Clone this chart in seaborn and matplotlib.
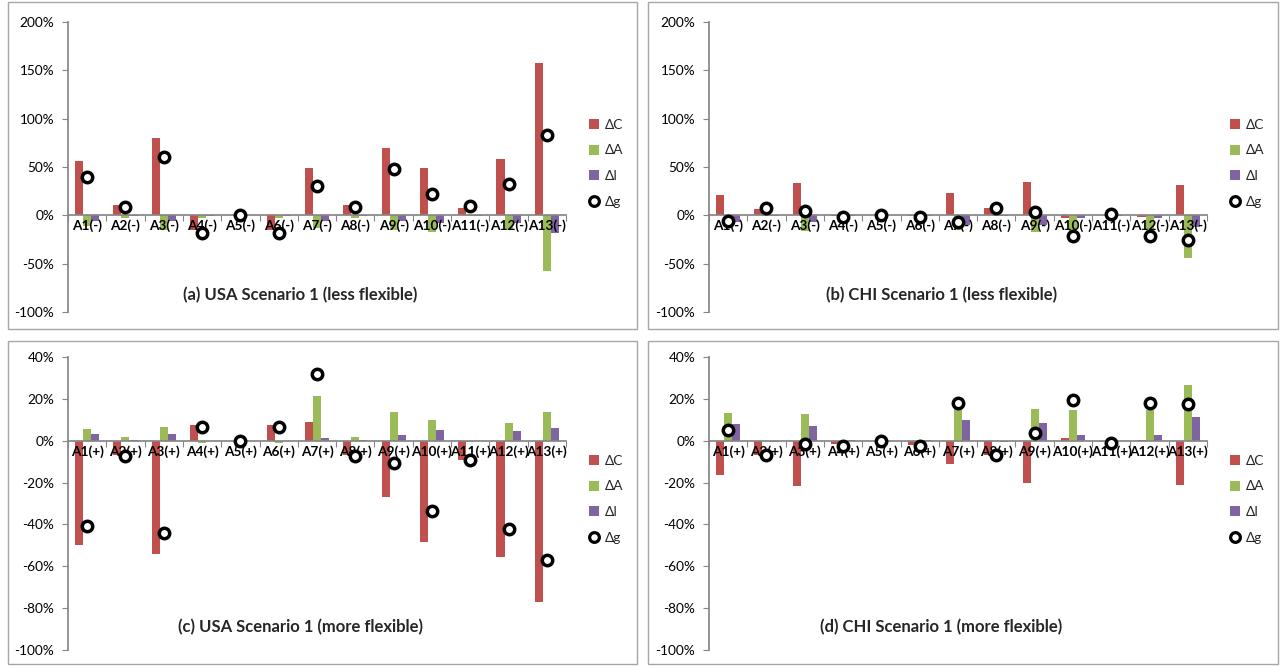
import numpy as np
import pandas as pd
import matplotlib
matplotlib.use("Agg")
import matplotlib.pyplot as plt
from matplotlib.patches import Patch, Rectangle
from matplotlib.lines import Line2D
from matplotlib.ticker import PercentFormatter, FixedLocator
import seaborn as sns

# ---------------- data (fractions) ----------------
cats_less = ["A1(-)", "A2(-)", "A3(-)", "A4(-)", "A5(-)", "A6(-)", "A7(-)",
             "A8(-)", "A9(-)", "A10(-)", "A11(-)", "A12(-)", "A13(-)"]
cats_more = ["A1(+)", "A2(+)", "A3(+)", "A4(+)", "A5(+)", "A6(+)", "A7(+)",
             "A8(+)", "A9(+)", "A10(+)", "A11(+)", "A12(+)", "A13(+)"]

# (a) USA Scenario 1 (less flexible)
usa_less_C = [0.56, 0.11, 0.80, -0.15, 0.0, -0.15, 0.49, 0.11, 0.70, 0.49, 0.08, 0.58, 1.58]
usa_less_A = [-0.11, -0.03, -0.15, -0.03, 0.0, -0.03, -0.13, -0.03, -0.15, -0.17, -0.005, -0.15, -0.58]
usa_less_I = [-0.055, -0.005, -0.055, -0.005, 0.0, -0.005, -0.055, -0.005, -0.055, -0.08, -0.003, -0.08, -0.18]
usa_less_g = [0.40, 0.09, 0.60, -0.18, 0.0, -0.18, 0.30, 0.09, 0.48, 0.22, 0.10, 0.32, 0.83]

# (b) CHI Scenario 1 (less flexible)
chi_less_C = [0.21, 0.07, 0.33, -0.01, 0.0, -0.005, 0.23, 0.075, 0.35, -0.025, 0.005, -0.02, 0.31]
chi_less_A = [-0.10, -0.005, -0.16, -0.005, 0.0, -0.005, -0.15, -0.005, -0.17, -0.22, -0.003, -0.20, -0.44]
chi_less_I = [-0.07, -0.003, -0.07, -0.01, 0.0, -0.01, -0.10, -0.003, -0.10, -0.03, -0.003, -0.03, -0.12]
chi_less_g = [-0.055, 0.08, 0.05, -0.02, 0.0, -0.02, -0.07, 0.08, 0.035, -0.21, 0.01, -0.21, -0.25]

# (c) USA Scenario 1 (more flexible)
usa_more_C = [-0.496, -0.07, -0.54, 0.075, 0.0, 0.075, 0.088, -0.07, -0.27, -0.485, -0.09, -0.557, -0.77]
usa_more_A = [0.054, 0.016, 0.067, -0.013, 0.0, -0.013, 0.214, 0.016, 0.136, 0.097, -0.008, 0.086, 0.136]
usa_more_I = [0.03, 0.002, 0.03, 0.001, 0.0, 0.001, 0.011, 0.002, 0.026, 0.05, 0.001, 0.045, 0.062]
usa_more_g = [-0.407, -0.073, -0.44, 0.065, 0.0, 0.065, 0.32, -0.073, -0.107, -0.335, -0.093, -0.423, -0.568]

# (d) CHI Scenario 1 (more flexible)
chi_more_C = [-0.166, -0.07, -0.215, -0.018, 0.0, -0.019, -0.11, -0.07, -0.20, 0.011, -0.008, 0.002, -0.212]
chi_more_A = [0.134, 0.001, 0.126, 0.001, 0.0, 0.001, 0.182, 0.001, 0.15, 0.148, 0.001, 0.145, 0.266]
chi_more_I = [0.078, -0.005, 0.072, 0.002, 0.0, 0.002, 0.097, -0.005, 0.083, 0.027, 0.001, 0.027, 0.115]
chi_more_g = [0.05, -0.069, -0.014, -0.027, 0.0, -0.027, 0.182, -0.069, 0.038, 0.193, -0.01, 0.182, 0.174]

series_names = ["ΔC", "ΔA", "ΔI"]
point_name = "Δg"
titles = ["(a) USA Scenario 1 (less flexible)", "(b) CHI Scenario 1 (less flexible)",
          "(c) USA Scenario 1 (more flexible)", "(d) CHI Scenario 1 (more flexible)"]
ticks_top = [-1.0, -0.5, 0.0, 0.5, 1.0, 1.5, 2.0]
ticks_bot = [-1.0, -0.8, -0.6, -0.4, -0.2, 0.0, 0.2, 0.4]

palette = {"ΔC": "#C0504D", "ΔA": "#9BBB59", "ΔI": "#8064A2"}

# ---------------- style ----------------
sns.set_theme(style="white")
plt.rcParams["font.family"] = ["Lato", "DejaVu Sans"]
plt.rcParams["axes.unicode_minus"] = False

W, H = 1285, 666
fig = plt.figure(figsize=(W / 100, H / 100), dpi=100)

panels = [
    (cats_less, usa_less_C, usa_less_A, usa_less_I, usa_less_g, ticks_top, (68, 22, 566, 312)),
    (cats_less, chi_less_C, chi_less_A, chi_less_I, chi_less_g, ticks_top, (709, 22, 1207, 312)),
    (cats_more, usa_more_C, usa_more_A, usa_more_I, usa_more_g, ticks_bot, (68, 357, 566, 650)),
    (cats_more, chi_more_C, chi_more_A, chi_more_I, chi_more_g, ticks_bot, (709, 357, 1207, 650)),
]
boxes = [(8, 2, 637, 329), (648, 2, 1278, 329), (8, 341, 637, 664), (648, 341, 1278, 664)]

grey = "#868686"

for (x0, y0, x1, y1) in boxes:
    fig.patches.append(Rectangle((x0 / W, 1 - y1 / H), (x1 - x0) / W, (y1 - y0) / H,
                                 transform=fig.transFigure, fill=False,
                                 edgecolor="#A6A6A6", linewidth=1.0, zorder=0))

for i, (cats, C, A, I, g, yt, (l, t, r, b)) in enumerate(panels):
    ax = fig.add_axes([l / W, 1 - b / H, (r - l) / W, (b - t) / H])
    df = pd.DataFrame({"cat": cats * 3,
                       "var": sum([[n] * len(cats) for n in series_names], []),
                       "val": list(C) + list(A) + list(I)})
    sns.barplot(data=df, x="cat", y="val", hue="var", order=cats,
                hue_order=series_names, palette=palette, saturation=1,
                width=0.63, linewidth=0, errorbar=None, legend=False, ax=ax)
    dg = pd.DataFrame({"cat": cats, "g": g})
    sns.pointplot(data=dg, x="cat", y="g", order=cats, errorbar=None,
                  color="black", markers="o", linestyles="none",
                  markersize=7.5, markeredgewidth=2.5,
                  markerfacecolor="white", markeredgecolor="black", ax=ax)
    for ln in ax.lines:
        ln.set_zorder(5)
        ln.set_clip_on(False)
    for p in ax.patches:
        p.set_zorder(1)
    ax.set_axisbelow(False)

    ax.set_xlim(-0.5, len(cats) - 0.5)
    ax.set_ylim(yt[0], yt[-1])
    ax.yaxis.set_major_locator(FixedLocator(yt))
    ax.yaxis.set_major_formatter(PercentFormatter(1.0, decimals=0))
    ax.set_xlabel("")
    ax.set_ylabel("")
    for s in ["top", "right"]:
        ax.spines[s].set_visible(False)
    ax.spines["left"].set_color(grey)
    ax.spines["bottom"].set_color(grey)
    ax.spines["bottom"].set_position(("data", 0))
    ax.spines["bottom"].set_zorder(2)
    ax.tick_params(axis="y", direction="out", length=4, width=0.8, color=grey,
                   labelsize=9.8, labelcolor="black", pad=6, left=True)
    ax.tick_params(axis="x", which="major", length=0, labelsize=9.8,
                   labelcolor="black", pad=3)
    for lab in ax.get_xticklabels():
        lab.set_fontweight("bold")
    ax.set_xticks(np.arange(len(cats) + 1) - 0.5, minor=True)
    ax.tick_params(axis="x", which="minor", direction="out", length=4,
                   width=0.8, color=grey, bottom=True)
    ax.grid(False)

    ty = 0.059 if i < 2 else 0.078
    ax.text(0.466, ty, titles[i], transform=ax.transAxes, ha="center",
            va="center", fontsize=12, fontweight="bold")

    handles = [Patch(facecolor=palette[n], edgecolor="none", label=n) for n in series_names]
    handles.append(Line2D([], [], linestyle="none", marker="o", markersize=7,
                          markerfacecolor="white", markeredgecolor="black",
                          markeredgewidth=2.3, label=point_name))
    ax.legend(handles=handles, loc="upper left", bbox_to_anchor=(1.035, 0.685),
              frameon=False, fontsize=9.8, labelspacing=1.0, handlelength=0.75,
              handleheight=0.75, handletextpad=0.4, borderaxespad=0)

fig.savefig("out.png", dpi=100)
